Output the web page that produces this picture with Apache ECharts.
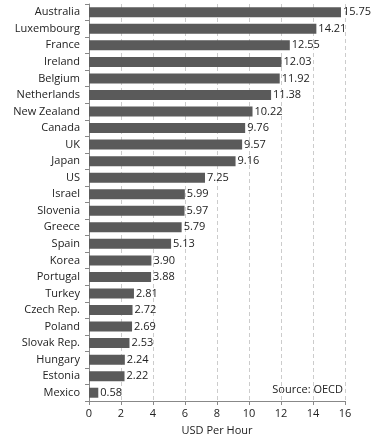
<!DOCTYPE html>
<html><head><meta charset="utf-8">
<script src="https://cdn.jsdelivr.net/npm/echarts@6/dist/echarts.min.js"></script>
<style>html,body{margin:0;padding:0;background:#fff}#c{width:374px;height:441px}</style>
</head><body><div id="c"></div>
<script>
const categories = ["Australia","Luxembourg","France","Ireland","Belgium","Netherlands","New Zealand","Canada","UK","Japan","US","Israel","Slovenia","Greece","Spain","Korea","Portugal","Turkey","Czech Rep.","Poland","Slovak Rep.","Hungary","Estonia","Mexico"];
const values = [15.75,14.21,12.55,12.03,11.92,11.38,10.22,9.76,9.57,9.16,7.25,5.99,5.97,5.79,5.13,3.90,3.88,2.81,2.72,2.69,2.53,2.24,2.22,0.58];
const xTicks = [0,2,4,6,8,10,12,14,16];
const font = "'Open Sans', sans-serif";
const chart = echarts.init(document.getElementById('c'), null, {renderer:'canvas'});
chart.setOption({
  animation:false,
  grid:{left:89,right:29,top:4,bottom:40,containLabel:false},
  xAxis:{type:'value',min:xTicks[0],max:xTicks[xTicks.length-1],interval:2,
    name:'USD Per Hour',nameLocation:'middle',nameGap:24,
    nameTextStyle:{fontFamily:font,fontSize:11,color:'#222'},
    axisLine:{show:true,lineStyle:{color:'#888'}},
    axisTick:{show:true,length:4,lineStyle:{color:'#888'}},
    axisLabel:{fontFamily:font,fontSize:11,color:'#222',margin:7},
    splitLine:{show:true,lineStyle:{color:'#ccc',type:[4,3]}}},
  yAxis:{type:'category',data:categories,inverse:true,
    axisLine:{show:true,lineStyle:{color:'#888'}},
    axisTick:{show:true,length:4,lineStyle:{color:'#888'}},
    axisLabel:{fontFamily:font,fontSize:11,color:'#222',margin:9}},
  series:[{type:'bar',data:values,barWidth:10,itemStyle:{color:'#5a5a5a'},
    label:{show:true,position:'right',distance:2,fontFamily:font,fontSize:11,color:'#222',
      formatter:p=>p.value.toFixed(2)}}],
  graphic:[{type:'text',right:31,top:384,style:{text:'Source: OECD',fontFamily:font,fontSize:11,fill:'#222'}}]
});
</script></body></html>
